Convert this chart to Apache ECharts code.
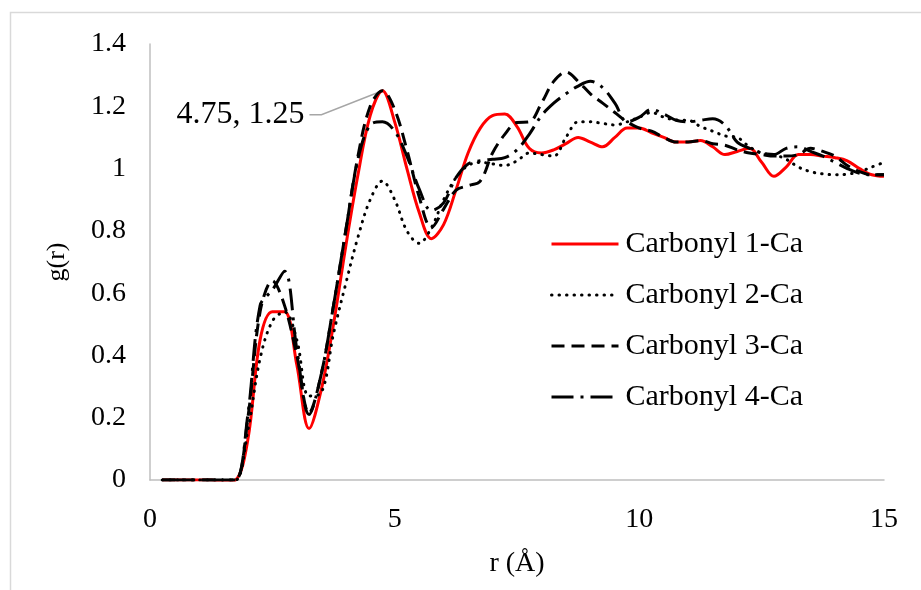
<!DOCTYPE html>
<html>
<head>
<meta charset="utf-8">
<script src="https://cdn.jsdelivr.net/npm/echarts@6/dist/echarts.min.js"></script>
<style>
  html, body { margin: 0; padding: 0; background: #fff; }
  #chart { width: 921px; height: 590px; }
</style>
</head>
<body>
<div id="chart"></div>
<script>
// r grid (Å)
const rValues = [
  0.25, 0.5, 0.75, 1.0, 1.25, 1.5, 1.75, 2.0, 2.25, 2.5,
  2.75, 3.0, 3.25, 3.5, 3.75, 4.0, 4.25, 4.5, 4.75, 5.0,
  5.25, 5.5, 5.75, 6.0, 6.25, 6.5, 6.75, 7.0, 7.25, 7.5,
  7.75, 8.0, 8.25, 8.5, 8.75, 9.0, 9.25, 9.5, 9.75, 10.0,
  10.25, 10.5, 10.75, 11.0, 11.25, 11.5, 11.75, 12.0, 12.25, 12.5,
  12.75, 13.0, 13.25, 13.5, 13.75, 14.0, 14.25, 14.5, 14.75, 15.0
]
const carbonyl1 = [
  0, 0, 0, 0, 0, -0.005, 0, 0.13, 0.45, 0.54,
  0.54, 0.37, 0.165, 0.29, 0.5, 0.75, 0.98, 1.17, 1.25, 1.15,
  1.0, 0.86, 0.775, 0.82, 0.93, 1.05, 1.13, 1.17, 1.175, 1.135,
  1.065, 1.05, 1.06, 1.08, 1.1, 1.085, 1.07, 1.1, 1.13, 1.13,
  1.115, 1.1, 1.085, 1.085, 1.09, 1.07, 1.045, 1.055, 1.065, 1.02,
  0.975, 1.005, 1.045, 1.045, 1.04, 1.035, 1.025, 1.0, 0.98, 0.975
]
const carbonyl2 = [
  0, 0, 0, 0, 0, 0, 0, 0.16, 0.39, 0.51,
  0.54, 0.45, 0.27, 0.28, 0.47, 0.63, 0.78, 0.9, 0.96, 0.9,
  0.8, 0.76, 0.81, 0.9, 0.97, 1.01, 1.02, 1.015, 1.01, 1.025,
  1.05, 1.045, 1.04, 1.1, 1.15, 1.15, 1.145, 1.14, 1.15, 1.165,
  1.18, 1.165, 1.156, 1.155, 1.135, 1.12, 1.105, 1.1, 1.07, 1.05,
  1.045, 1.03, 1.005, 0.99, 0.983, 0.98, 0.982, 0.99, 1.005, 1.02
]
const carbonyl3 = [
  0, 0, 0, 0, 0, 0, 0, 0.2, 0.54, 0.64,
  0.56, 0.4, 0.215, 0.34, 0.56, 0.8, 1.04, 1.2, 1.25, 1.19,
  1.06, 0.91, 0.81, 0.87, 0.93, 0.945, 0.96, 1.05, 1.11, 1.148,
  1.15, 1.21, 1.28, 1.31, 1.28, 1.24, 1.21, 1.18, 1.15, 1.13,
  1.12, 1.1, 1.085, 1.085, 1.09, 1.08, 1.075, 1.06, 1.05, 1.045,
  1.04, 1.04, 1.045, 1.065, 1.055, 1.04, 1.01, 0.99, 0.98, 0.98
]
const carbonyl4 = [
  0, 0, 0, 0, 0, 0, 0, 0.21, 0.56, 0.61,
  0.67, 0.42, 0.21, 0.34, 0.56, 0.8, 1.03, 1.14, 1.15, 1.12,
  1.04, 0.935, 0.865, 0.89, 0.97, 1.015, 1.025, 1.03, 1.035, 1.06,
  1.11, 1.17, 1.21, 1.24, 1.265, 1.28, 1.26, 1.21, 1.15, 1.165,
  1.19, 1.175, 1.155, 1.15, 1.155, 1.16, 1.14, 1.085, 1.065, 1.05,
  1.045, 1.065, 1.07, 1.055, 1.04, 1.02, 1.0, 0.985, 0.98, 0.98
]
const seriesNames = ["Carbonyl 1-Ca", "Carbonyl 2-Ca", "Carbonyl 3-Ca", "Carbonyl 4-Ca"]
const xTicks = [0, 15, 5]   // min, max, interval
const yTicks = [0, 1.4, 0.2]
const annoPoint = [4.75, 1.25]

const font = "'Liberation Serif', 'Times New Roman', serif"
const pairs = (ys) => rValues.map((r, i) => [r, ys[i]])

const chart = echarts.init(document.getElementById("chart"))

const lineSeries = (name, ys, color, dash, cap) => ({
  name: name,
  type: "line",
  data: pairs(ys),
  smooth: 0.35,
  showSymbol: false,
  symbol: "none",
  lineStyle: { color: color, width: 3, type: dash, cap: cap || "butt" },
  itemStyle: { color: color },
})

const option = {
  backgroundColor: "#fff",
  animation: false,
  grid: { left: 150, right: 37, top: 44, bottom: 110 },
  xAxis: {
    type: "value",
    min: xTicks[0],
    max: xTicks[1],
    interval: xTicks[2],
    name: "r (Å)",
    nameLocation: "middle",
    nameGap: 70,
    nameTextStyle: { fontFamily: font, fontSize: 28, color: "#000" },
    axisLine: { show: true, lineStyle: { color: "#bfbfbf", width: 1.5 } },
    axisTick: { show: false },
    splitLine: { show: false },
    axisLabel: { fontFamily: font, fontSize: 28, color: "#000", margin: 26 },
  },
  yAxis: {
    type: "value",
    min: yTicks[0],
    max: yTicks[1],
    interval: yTicks[2],
    name: "g(r)",
    nameLocation: "middle",
    nameGap: 80,
    nameRotate: 90,
    nameTextStyle: { fontFamily: font, fontSize: 26, color: "#000" },
    axisLine: { show: true, lineStyle: { color: "#bfbfbf", width: 1.5 } },
    axisTick: { show: false },
    splitLine: { show: false },
    axisLabel: { fontFamily: font, fontSize: 28, color: "#000", margin: 24 },
  },
  legend: {
    orient: "vertical",
    left: 545,
    top: 224,
    itemWidth: 67,
    itemHeight: 20,
    itemGap: 21,
    itemStyle: { opacity: 0, borderWidth: 0 },
    lineStyle: { width: 3 },
    textStyle: { fontFamily: font, fontSize: 30, color: "#000", lineHeight: 30, padding: [0, 0, 0, 2] },
    data: seriesNames,
  },
  graphic: [
    {
      id: "frame",
      type: "rect",
      silent: true,
      shape: { x: 10.5, y: 12.5, width: 1000, height: 1000 },
      style: { fill: "none", stroke: "#d9d9d9", lineWidth: 1.5 },
    },
  ],
  series: [
    lineSeries(seriesNames[0], carbonyl1, "#ff0000", "solid"),
    lineSeries(seriesNames[1], carbonyl2, "#000", [0.5, 7], "round"),
    lineSeries(seriesNames[2], carbonyl3, "#000", [13, 7]),
    lineSeries(seriesNames[3], carbonyl4, "#000", [22, 7, 3, 7]),
  ],
}
chart.setOption(option)

// data label for the first-shell peak, placed from the axis scales
const p = chart.convertToPixel({ gridIndex: 0 }, annoPoint)
chart.setOption({
  graphic: [
    {
      id: "annoLine",
      type: "polyline",
      silent: true,
      shape: { points: [[p[0], p[1]], [p[0] - 61, p[1] + 24], [p[0] - 73, p[1] + 24]] },
      style: { stroke: "#a6a6a6", lineWidth: 1.5, fill: "none" },
    },
    {
      id: "annoText",
      type: "text",
      silent: true,
      x: p[0] - 78,
      y: p[1] + 24,
      style: {
        text: annoPoint[0] + ", " + annoPoint[1],
        fontFamily: font,
        fontSize: 32,
        fill: "#000",
        align: "right",
        verticalAlign: "middle",
      },
    },
  ],
})
</script>
</body>
</html>
